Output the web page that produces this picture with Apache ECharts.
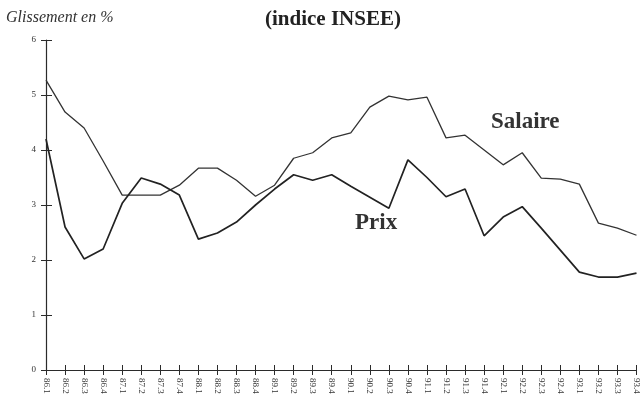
<!DOCTYPE html>
<html>
<head>
<meta charset="utf-8">
<script src="https://cdn.jsdelivr.net/npm/echarts@6/dist/echarts.min.js"></script>
<style>
  html, body { margin: 0; padding: 0; background: #fff; }
  #chart { width: 641px; height: 412px; }
</style>
</head>
<body>
<div id="chart"></div>
<script>
// trimestres 86.1 ... 93.4
const quarters = [
  '86.1','86.2','86.3','86.4','87.1','87.2','87.3','87.4',
  '88.1','88.2','88.3','88.4','89.1','89.2','89.3','89.4',
  '90.1','90.2','90.3','90.4','91.1','91.2','91.3','91.4',
  '92.1','92.2','92.3','92.4','93.1','93.2','93.3','93.4'
];
const salaire = [
  5.27, 4.69, 4.40, 3.80, 3.18, 3.18, 3.18, 3.36,
  3.67, 3.67, 3.45, 3.16, 3.36, 3.85, 3.95, 4.22,
  4.31, 4.78, 4.98, 4.91, 4.96, 4.22, 4.27, 4.00,
  3.73, 3.95, 3.49, 3.47, 3.38, 2.67, 2.58, 2.45
];
const prix = [
  4.20, 2.60, 2.02, 2.20, 3.03, 3.49, 3.38, 3.18,
  2.38, 2.49, 2.69, 3.00, 3.29, 3.55, 3.45, 3.55,
  3.34, 3.14, 2.94, 3.82, 3.50, 3.15, 3.29, 2.44,
  2.78, 2.97, 2.58, 2.18, 1.78, 1.69, 1.69, 1.76
];
const yTicks = [0, 6, 1]; // min, max, interval

const ink = '#2b2b2b';
const serif = 'Liberation Serif';

const chart = echarts.init(document.getElementById('chart'));
chart.setOption({
  backgroundColor: '#fff',
  animation: false,
  grid: { left: 46, right: 4, top: 40, bottom: 42 },
  xAxis: [
    {
      type: 'category', data: quarters, boundaryGap: false,
      axisLine: { lineStyle: { color: ink, width: 1.2 } },
      axisTick: { length: 5, lineStyle: { color: ink } },
      axisLabel: { rotate: -90, margin: 8, fontFamily: serif, fontSize: 9, color: '#333', interval: 0 }
    },
    {
      // petits traits au-dessus de l'axe (les graduations traversent l'axe)
      type: 'category', data: quarters, boundaryGap: false, position: 'bottom', offset: 0,
      axisLine: { show: true, lineStyle: { color: ink, opacity: 0 } },
      axisTick: { show: true, inside: true, length: 5, interval: 0, lineStyle: { color: ink } },
      axisLabel: { show: false }
    }
  ],
  yAxis: [
    {
      type: 'value', min: yTicks[0], max: yTicks[1], interval: yTicks[2],
      splitLine: { show: false },
      axisLine: { show: true, lineStyle: { color: ink, width: 1.2 } },
      axisTick: { show: true, length: 5, lineStyle: { color: ink } },
      axisLabel: { margin: 10, fontFamily: serif, fontSize: 9, color: '#333' }
    },
    {
      type: 'value', min: yTicks[0], max: yTicks[1], interval: yTicks[2], position: 'left',
      splitLine: { show: false },
      axisLine: { show: false },
      axisTick: { show: true, inside: true, length: 6, lineStyle: { color: ink } },
      axisLabel: { show: false }
    }
  ],
  series: [
    {
      name: 'Salaire', type: 'line', data: salaire, symbol: 'none',
      lineStyle: { color: '#333', width: 1.3 }
    },
    {
      name: 'Prix', type: 'line', data: prix, symbol: 'none',
      lineStyle: { color: '#222', width: 1.7 }
    }
  ],
  graphic: [
    { type: 'text', left: 6, top: 10,
      style: { text: 'Glissement en %', font: 'italic 16px "Liberation Serif"', fill: '#333' } },
    { type: 'text', left: 265, top: 9,
      style: { text: '(indice INSEE)', font: 'bold 21px "Liberation Serif"', fill: '#222' } },
    { type: 'text', left: 491, top: 111,
      style: { text: 'Salaire', font: 'bold 23px "Liberation Serif"', fill: '#333' } },
    { type: 'text', left: 355, top: 212,
      style: { text: 'Prix', font: 'bold 23px "Liberation Serif"', fill: '#333' } }
  ]
});
</script>
</body>
</html>
